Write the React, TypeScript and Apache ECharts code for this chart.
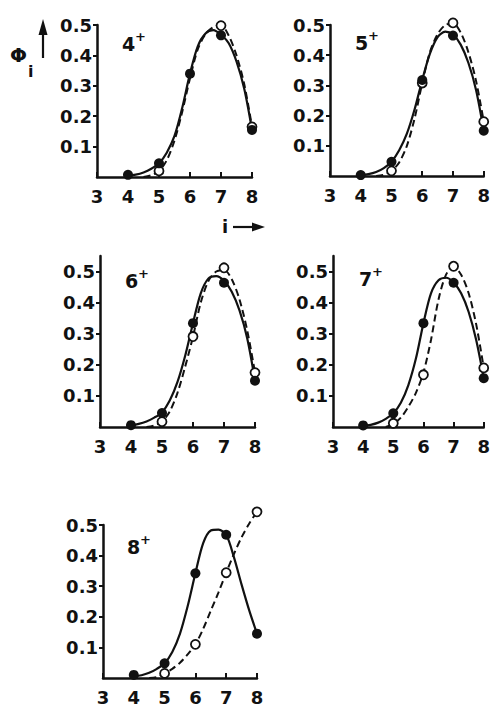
import React, { useEffect, useRef } from "react";
import * as echarts from "echarts";

type Pt = [number, number];

// ---- data ----
const panelNames = ["4", "5", "6", "7", "8"];
const yTickLabels = [0.1, 0.2, 0.3, 0.4, 0.5];
const xTickLabels = [3, 4, 5, 6, 7, 8];

// measured points (filled = solid curve, open = dashed curve)
const filled4: Pt[] = [[4, 0.007], [5, 0.045], [6, 0.34], [7, 0.466], [8, 0.155]];
const open4: Pt[] = [[5, 0.02], [7, 0.498], [8, 0.165]];
const filled5: Pt[] = [[4, 0.003], [5, 0.047], [6, 0.318], [7, 0.465], [8, 0.15]];
const open5: Pt[] = [[5, 0.017], [6, 0.308], [7, 0.507], [8, 0.18]];
const filled6: Pt[] = [[4, 0.006], [5, 0.045], [6, 0.334], [7, 0.464], [8, 0.149]];
const open6: Pt[] = [[5, 0.017], [6, 0.291], [7, 0.512], [8, 0.175]];
const filled7: Pt[] = [[4, 0.005], [5, 0.044], [6, 0.334], [7, 0.464], [8, 0.157]];
const open7: Pt[] = [[5, 0.012], [6, 0.168], [7, 0.517], [8, 0.19]];
const filled8: Pt[] = [[4, 0.01], [5, 0.048], [6, 0.342], [7, 0.468], [8, 0.145]];
const open8: Pt[] = [[5, 0.015], [6, 0.11], [7, 0.344], [8, 0.543]];

// curves at x = 4, 4.25, ... 8
const curveX = [4, 4.25, 4.5, 4.75, 5, 5.25, 5.5, 5.75, 6, 6.25, 6.5, 6.75, 7, 7.25, 7.5, 7.75, 8];
const solid4 = [0.005, 0.008, 0.015, 0.027, 0.045, 0.08, 0.135, 0.228, 0.34, 0.43, 0.472, 0.483, 0.468, 0.44, 0.38, 0.29, 0.155];
const dashed4 = [null, null, 0, 0.006, 0.02, 0.055, 0.12, 0.215, 0.325, 0.42, 0.47, 0.493, 0.498, 0.465, 0.4, 0.305, 0.165];
const solid5 = [0.003, 0.006, 0.013, 0.026, 0.047, 0.085, 0.14, 0.22, 0.318, 0.405, 0.46, 0.478, 0.468, 0.435, 0.375, 0.285, 0.15];
const dashed5 = [null, null, 0, 0.004, 0.017, 0.045, 0.1, 0.19, 0.308, 0.41, 0.47, 0.5, 0.505, 0.475, 0.41, 0.315, 0.18];
const solid6 = [0.005, 0.01, 0.018, 0.03, 0.047, 0.085, 0.145, 0.23, 0.334, 0.43, 0.478, 0.485, 0.47, 0.435, 0.375, 0.285, 0.149];
const dashed6 = [null, null, 0, 0.005, 0.018, 0.05, 0.11, 0.195, 0.291, 0.4, 0.47, 0.5, 0.505, 0.475, 0.41, 0.31, 0.175];
const solid7 = [0.003, 0.007, 0.014, 0.026, 0.044, 0.078, 0.135, 0.22, 0.334, 0.43, 0.472, 0.48, 0.465, 0.43, 0.37, 0.28, 0.157];
const dashed7 = [null, null, null, 0, 0.01, 0.03, 0.065, 0.11, 0.175, 0.28, 0.41, 0.49, 0.515, 0.49, 0.43, 0.33, 0.19];
const solid8 = [0.005, 0.009, 0.017, 0.03, 0.048, 0.085, 0.145, 0.235, 0.342, 0.44, 0.482, 0.485, 0.468, 0.395, 0.305, 0.22, 0.145];
const dashed8 = [null, null, 0, 0.003, 0.015, 0.03, 0.05, 0.077, 0.11, 0.16, 0.22, 0.28, 0.344, 0.405, 0.46, 0.505, 0.543];

const filledSets = [filled4, filled5, filled6, filled7, filled8];
const openSets = [open4, open5, open6, open7, open8];
const solidSets = [solid4, solid5, solid6, solid7, solid8];
const dashedSets = [dashed4, dashed5, dashed6, dashed7, dashed8];
const yMaxes = [0.5, 0.5, 0.55, 0.55, 0.5];

// ---- layout ----
const grids = [
  { left: 97, top: 25, width: 155, height: 152 },
  { left: 330, top: 25, width: 155, height: 151 },
  { left: 100, top: 256, width: 155, height: 171 },
  { left: 333, top: 256, width: 156, height: 171 },
  { left: 103, top: 525, width: 154, height: 155 },
];
const labelPos = [
  [122, 44],
  [355, 43],
  [125, 281],
  [359, 279],
  [127, 547],
];

const FONT = "DejaVu Sans";
const INK = "#111";

const toPairs = (vals: (number | null)[]) =>
  curveX.map((x, k) => [x, vals[k]] as [number, number | null]).filter((p) => p[1] !== null);

export default function App() {
  const ref = useRef<HTMLDivElement>(null);
  useEffect(() => {
    if (!ref.current) return;
    const chart = echarts.init(ref.current, undefined, { renderer: "svg" });
    const xAxis = grids.map((_, i) => ({
      type: "value",
      gridIndex: i,
      min: 3,
      max: 8,
      interval: 1,
      axisLine: { show: true, onZero: false, lineStyle: { color: INK, width: 2.5 } },
      axisTick: { show: true, inside: true, length: 5, lineStyle: { color: INK, width: 2 } },
      splitLine: { show: false },
      axisLabel: {
        show: true,
        margin: 10,
        color: INK,
        fontFamily: FONT,
        fontWeight: "bold",
        fontSize: 18,
        customValues: xTickLabels,
        formatter: (v: number) => String(v),
      },
    }));
    const yAxis = grids.map((_, i) => ({
      type: "value",
      gridIndex: i,
      min: 0,
      max: yMaxes[i],
      interval: 0.1,
      axisLine: { show: true, onZero: false, lineStyle: { color: INK, width: 2.5 } },
      axisTick: { show: true, inside: false, length: 4, customValues: yTickLabels, lineStyle: { color: INK, width: 2 } },
      splitLine: { show: false },
      axisLabel: {
        show: true,
        margin: 5,
        color: INK,
        fontFamily: FONT,
        fontWeight: "bold",
        fontSize: 18,
        customValues: yTickLabels,
        formatter: (v: number) => v.toFixed(1),
      },
    }));
    const series: any[] = [];
    grids.forEach((_, i) => {
      series.push({
        type: "line",
        xAxisIndex: i,
        yAxisIndex: i,
        data: toPairs(dashedSets[i]),
        smooth: 0.3,
        showSymbol: false,
        symbol: "none",
        clip: false,
        lineStyle: { color: INK, width: 2, type: [7, 4] },
        z: 2,
      });
      series.push({
        type: "line",
        xAxisIndex: i,
        yAxisIndex: i,
        data: toPairs(solidSets[i]),
        smooth: 0.3,
        showSymbol: false,
        symbol: "none",
        clip: false,
        lineStyle: { color: INK, width: 2.2 },
        z: 3,
      });
      series.push({
        type: "scatter",
        xAxisIndex: i,
        yAxisIndex: i,
        data: openSets[i],
        symbol: "circle",
        symbolSize: 9,
        clip: false,
        itemStyle: { color: "#fff", borderColor: INK, borderWidth: 1.8, opacity: 1 },
        z: 4,
      });
      series.push({
        type: "scatter",
        xAxisIndex: i,
        yAxisIndex: i,
        data: filledSets[i],
        symbol: "circle",
        symbolSize: 10,
        clip: false,
        itemStyle: { color: INK, borderColor: INK, borderWidth: 0, opacity: 1 },
        z: 5,
      });
    });

    const graphic: any[] = [];
    panelNames.forEach((n, i) => {
      const [x, y] = labelPos[i];
      graphic.push({
        type: "text",
        x,
        y,
        style: { text: n, fontFamily: FONT, fontWeight: "bold", fontSize: 19, fill: INK, align: "left", verticalAlign: "middle" },
      });
      graphic.push({
        type: "text",
        x: x + 13,
        y: y - 8,
        style: { text: "+", fontFamily: FONT, fontWeight: "bold", fontSize: 13, fill: INK, align: "left", verticalAlign: "middle" },
      });
    });
    // Φi with upward arrow
    graphic.push({
      type: "text",
      x: 10,
      y: 55,
      style: { text: "Φ", fontFamily: FONT, fontWeight: "bold", fontSize: 20, fill: INK, align: "left", verticalAlign: "middle" },
    });
    graphic.push({
      type: "text",
      x: 28,
      y: 71,
      style: { text: "i", fontFamily: FONT, fontWeight: "bold", fontSize: 16, fill: INK, align: "left", verticalAlign: "middle" },
    });
    graphic.push({ type: "line", shape: { x1: 43, y1: 58, x2: 43, y2: 30 }, style: { stroke: INK, lineWidth: 2.2 } });
    graphic.push({ type: "polygon", shape: { points: [[38.5, 35], [47.5, 35], [43, 19]] }, style: { fill: INK } });
    // i with right arrow
    graphic.push({
      type: "text",
      x: 222,
      y: 226,
      style: { text: "i", fontFamily: FONT, fontWeight: "bold", fontSize: 18, fill: INK, align: "left", verticalAlign: "middle" },
    });
    graphic.push({ type: "line", shape: { x1: 233, y1: 227, x2: 256, y2: 227 }, style: { stroke: INK, lineWidth: 2.2 } });
    graphic.push({ type: "polygon", shape: { points: [[252, 222.5], [252, 231.5], [265, 227]] }, style: { fill: INK } });

    chart.setOption({
      animation: false,
      backgroundColor: "#fff",
      grid: grids.map((g) => ({ ...g, containLabel: false })),
      xAxis,
      yAxis,
      series,
      graphic,
    });
    return () => chart.dispose();
  }, []);
  return <div ref={ref} style={{ position: "absolute", left: 0, top: 0, width: 493, height: 706 }} />;
}
